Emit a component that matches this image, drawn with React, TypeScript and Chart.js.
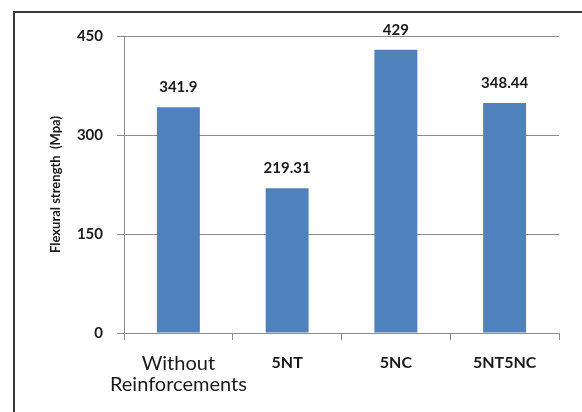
import React, { useEffect, useRef } from "react";
import { Chart, registerables } from "chart.js";

Chart.register(...registerables);

// Flexural strength per specimen group
const categories: (string | string[])[] = [["Without", "Reinforcements"], "5NT", "5NC", "5NT5NC"];
const strengthValues: number[] = [341.9, 219.31, 429, 348.44];
const yTicks: number[] = [0, 150, 300, 450];

const FONT = "Lato, 'Open Sans', sans-serif";
const BAR_COLOR = "#4F81BD";
const GRID_COLOR = "#8C8C8C";

// Draws the value text above each bar, positioned from the bar elements
const valueLabels = {
  id: "valueLabels",
  afterDatasetsDraw(chart: any) {
    const { ctx } = chart;
    const meta = chart.getDatasetMeta(0);
    ctx.save();
    ctx.font = `bold 15px ${FONT}`;
    ctx.fillStyle = "#1a1a1a";
    ctx.textAlign = "center";
    ctx.textBaseline = "middle";
    meta.data.forEach((bar: any, i: number) => {
      const v = chart.data.datasets[0].data[i];
      ctx.fillText(String(v), bar.x, bar.y - 20);
    });
    ctx.restore();
  },
};

// Frame around the chart region
const frame = {
  id: "frame",
  beforeDraw(chart: any) {
    const { ctx, width, height } = chart;
    ctx.save();
    ctx.strokeStyle = "#3a3a3a";
    ctx.lineWidth = 2;
    ctx.beginPath();
    ctx.moveTo(14, height);
    ctx.lineTo(14, 12);
    ctx.lineTo(width, 12);
    ctx.stroke();
    ctx.restore();
  },
};

export default function App() {
  const canvasRef = useRef<HTMLCanvasElement | null>(null);

  useEffect(() => {
    if (!canvasRef.current) return;
    const chart = new Chart(canvasRef.current, {
      type: "bar",
      data: {
        labels: categories,
        datasets: [
          {
            data: strengthValues,
            backgroundColor: BAR_COLOR,
            borderWidth: 0,
            barPercentage: 0.79,
            categoryPercentage: 0.5,
          },
        ],
      },
      options: {
        responsive: false,
        animation: false,
        layout: { padding: { top: 36, right: 23, left: 0, bottom: 0 } },
        plugins: {
          legend: { display: false },
          tooltip: { enabled: false },
        },
        scales: {
          x: {
            grid: {
              display: true,
              drawOnChartArea: false,
              drawTicks: true,
              tickLength: 7,
              color: GRID_COLOR,
              offset: true,
            },
            border: { display: true, color: GRID_COLOR, width: 1 },
            ticks: {
              padding: 13,
              color: "#1a1a1a",
              maxRotation: 0,
              autoSkip: false,
              font: (ctx: any) =>
                ctx.index === 0
                  ? { family: FONT, size: 20, weight: "normal", lineHeight: 1.05 }
                  : { family: FONT, size: 16, weight: "bold" },
            },
            afterFit(scale: any) {
              scale.height = 79;
            },
          },
          y: {
            min: 0,
            max: 450,
            afterBuildTicks(scale: any) {
              scale.ticks = yTicks.map((v) => ({ value: v }));
            },
            grid: {
              color: GRID_COLOR,
              tickLength: 7,
              drawTicks: true,
            },
            border: { display: true, color: GRID_COLOR, width: 1 },
            ticks: {
              padding: 14,
              color: "#1a1a1a",
              font: { family: FONT, size: 15, weight: "bold" },
            },
            title: {
              display: true,
              text: "Flexural strength  (Mpa)",
              color: "#1a1a1a",
              font: { family: FONT, size: 13, weight: "bold" },
              padding: { top: 48, bottom: 0 },
            },
            afterFit(scale: any) {
              scale.width = 124;
            },
          },
        },
      },
      plugins: [frame, valueLabels],
    });
    return () => chart.destroy();
  }, []);

  return (
    <div style={{ position: "fixed", left: 0, top: 0, width: 582, height: 412, background: "#fff" }}>
      <canvas ref={canvasRef} width={582} height={412} style={{ display: "block" }} />
    </div>
  );
}
